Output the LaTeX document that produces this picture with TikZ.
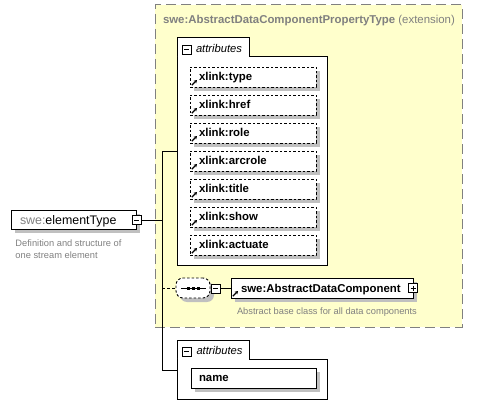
\documentclass[tikz,border=0pt]{standalone}
\usepackage{fontspec}
\setmainfont{Liberation Sans}
\usetikzlibrary{shadows,arrows.meta}
\definecolor{ybg}{RGB}{255,255,204}
\definecolor{ybd}{RGB}{128,128,128}
\definecolor{shd}{RGB}{192,192,192}
\definecolor{gtxt}{RGB}{128,128,128}
\newcommand{\fbold}{\fontsize{11.4}{13}\selectfont\bfseries}
\newcommand{\fdesc}{\fontsize{9.3}{10.3}\selectfont}
\newcommand{\fbig}{\fontsize{12.4}{14}\selectfont}
\newcommand{\fital}{\fontsize{11.2}{13}\selectfont\itshape}
\begin{document}
\begin{tikzpicture}[x=1pt,y=-1pt,line width=1pt,
  box/.style={draw=black,fill=white,inner sep=0pt,outer sep=0pt,anchor=north west},
  shad/.style={drop shadow={shadow xshift=4pt,shadow yshift=-4pt,fill=shd,opacity=1}},
  xattr/.style={box,shad,dash pattern=on 2.5pt off 2pt,line width=0.9pt,minimum width=126pt,minimum height=20pt},
  lbl/.style={anchor=base west,inner sep=0pt,outer sep=0pt},
  btn/.style={draw=black,fill=white,line width=0.9pt,minimum size=9pt,inner sep=0pt,outer sep=0pt,
    path picture={\draw[line width=0.9pt] ([xshift=2pt]path picture bounding box.west) -- ([xshift=-2pt]path picture bounding box.east);}},
  pbtn/.style={btn,path picture={\draw[line width=0.9pt] ([xshift=2pt]path picture bounding box.west) -- ([xshift=-2pt]path picture bounding box.east);
      \draw[line width=0.9pt] ([yshift=-2pt]path picture bounding box.north) -- ([yshift=2pt]path picture bounding box.south);}},
  refarr/.style={-{Stealth[length=3.2pt,width=3.8pt]},line width=1.3pt}
]
\useasboundingbox (0,0) rectangle (498,417);

% extension (yellow) frame
\node[box,draw=ybd,fill=ybg,dash pattern=on 10pt off 5pt,minimum width=307pt,minimum height=322pt] (ext) at (155,5) {};
\node[lbl] (exttitle) at (163,23.3) {\fbold\color{gtxt}swe:AbstractDataComponentPropertyType \mdseries(extension)};

% attributes group A
\node[box,minimum width=150pt,minimum height=208pt] (attrA) at (177,57) {};
\node[box,anchor=south west,minimum width=72pt,minimum height=19pt] (tabA) at (attrA.north west) {};
\draw[white,line width=1.4pt] ([xshift=0.5pt]tabA.south west) -- ([xshift=-0.5pt]tabA.south east);
\node[btn] (mA) at (186.5,49.5) {};
\node[lbl] (attrAt) at (196,52.3) {\fital attributes};

\foreach \n/\t [count=\i from 0] in {a/type,b/href,c/role,d/arcrole,e/title,f/show,g/actuate}{
  \node[xattr] (x\n) at (190,67+28*\i) {};
  \node[lbl] (x\n t) at (199,80.7+28*\i) {\fbold xlink:\t};
  \draw[refarr] ([shift={(1.8,-1.8)}]x\n.south west) -- ++(5.2,-5.2);
}

% element
\node[box,shad,minimum width=125pt,minimum height=19pt] (et) at (11,210) {};
\node[lbl] (ett) at (20,224.3) {\fbig{\color{gtxt}swe:}elementType};
\node[btn] (mET) at (136.5,220) {};
\node[anchor=north west,inner sep=0pt,align=left,text=gtxt] (etd) at (15,239.3) {\fdesc Definition and structure of\\\fdesc one stream element};

% connectors
\coordinate (jtop) at (162,152);
\coordinate (jbot) at (162,370);
\draw (mET.east) -- (mET.east -| jtop);
\draw (jtop) -- (jbot);
\draw (jtop) -- (jtop -| attrA.west);

% sequence compositor
\node[draw=black,fill=white,dash pattern=on 2.5pt off 2pt,line width=0.9pt,rounded corners=7pt,shad,
      minimum width=34pt,minimum height=20pt,inner sep=0pt,outer sep=0pt] (seq) at (193,288) {};
\draw[line width=1pt] ([xshift=-12pt]seq.center) -- ([xshift=13pt]seq.center);
\foreach \dx in {-5,0,5}{\fill ([xshift=\dx pt]seq.center) +(-1.5,-1.5) rectangle +(1.5,1.5);}
\draw[dash pattern=on 3pt off 2pt] (seq.west -| jtop) -- (seq.west);
\node[btn] (mSeq) at (215.5,288.5) {};

% AbstractDataComponent
\node[box,shad,minimum width=182pt,minimum height=20pt] (adc) at (231,278) {};
\draw (mSeq.east) -- (mSeq.east -| adc.west);
\node[lbl] (adct) at (241,292.3) {\fbold swe:AbstractDataComponent};
\draw[refarr] ([shift={(1.8,-1.8)}]adc.south west) -- ++(5.2,-5.2);
\node[pbtn] (pADC) at (413,288) {};
\node[lbl,text=gtxt] (adcd) at (237,314) {\fdesc Abstract base class for all data components};

% attributes group B
\node[box,minimum width=150pt,minimum height=40pt] (attrB) at (177,359) {};
\node[box,anchor=south west,minimum width=72pt,minimum height=19pt] (tabB) at (attrB.north west) {};
\draw[white,line width=1.4pt] ([xshift=0.5pt]tabB.south west) -- ([xshift=-0.5pt]tabB.south east);
\node[btn] (mB) at (186.5,351.5) {};
\node[lbl] (attrBt) at (196.5,354) {\fital attributes};
\draw (jbot) -- (jbot -| attrB.west);
\node[box,shad,minimum width=125pt,minimum height=20pt] (nm) at (191,368) {};
\node[lbl] (nmt) at (199,381.7) {\fbold name};
\end{tikzpicture}
\end{document}
